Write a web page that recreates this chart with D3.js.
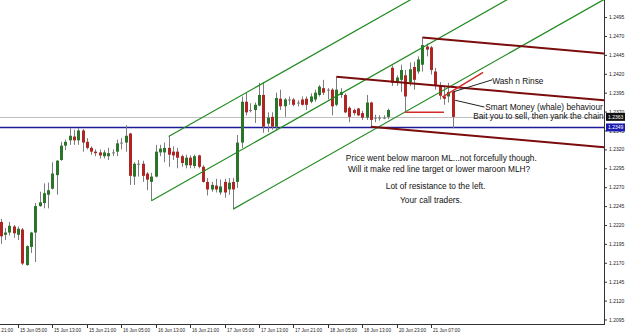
<!DOCTYPE html>
<html>
<head>
<meta charset="utf-8">
<script src="https://cdn.jsdelivr.net/npm/d3@7/dist/d3.min.js"></script>
<style>
  body { margin: 0; background: #fff; }
  svg { display: block; font-family: "Liberation Sans", Arial, sans-serif; }
</style>
</head>
<body>
<svg id="chart"></svg>
<script>
var width = 625; // size of the screenshot
var height = 333;
var plotRight = 604; // price scale starts here
var plotBottom = 324; // time scale starts here

// EURUSD H1, bar 0 = 14 Jun 21:00, first bar on screen is bar 4
var firstBar = 4;
var open = [1.2224,1.2207,1.2210,1.2218,1.2207,1.2214,1.2167,1.2191,1.2210,1.2245,
  1.2249,1.2260,1.2268,1.2286,1.2306,1.2325,1.2332,1.2337,1.2332,1.2345,
  1.2330,1.2322,1.2317,1.2316,1.2311,1.2311,1.2315,1.2317,1.2328,1.2329,
  1.2341,1.2284,1.2300,1.2301,1.2288,1.2277,1.2284,1.2316,1.2316,1.2322,
  1.2317,1.2317,1.2311,1.2299,1.2309,1.2298,1.2312,1.2297,1.2277,1.2267,
  1.2272,1.2263,1.2277,1.2267,1.2277,1.2277,1.2329,1.2383,1.2372,1.2372,
  1.2378,1.2392,1.2354,1.2363,1.2350,1.2387,1.2377,1.2386,1.2386,1.2382,
  1.2386,1.2387,1.2383,1.2386,1.2392,1.2401,1.2399,1.2399,1.2379,1.2392,
  1.2392,1.2375,1.2372,1.2374,1.2368,1.2362,1.2382,1.2361,1.2362,1.2361,
  1.2363,1.2428,1.2408,1.2412,1.2418,1.2409,1.2429,1.2423,1.2432,1.2456,
  1.2455,1.2423,1.2404,1.2390,1.2390,1.2396];
var high = [1.2228,1.2216,1.2224,1.2220,1.2218,1.2216,1.2193,1.2211,1.2249,1.2264,
  1.2275,1.2276,1.2303,1.2306,1.2330,1.2333,1.2348,1.2346,1.2348,1.2347,
  1.2335,1.2324,1.2320,1.2320,1.2319,1.2322,1.2320,1.2333,1.2335,1.2352,
  1.2342,1.2303,1.2306,1.2305,1.2290,1.2289,1.2326,1.2326,1.2329,1.2337,
  1.2324,1.2322,1.2313,1.2313,1.2312,1.2313,1.2313,1.2299,1.2282,1.2277,
  1.2281,1.2280,1.2281,1.2282,1.2282,1.2339,1.2390,1.2395,1.2381,1.2382,
  1.2408,1.2409,1.2369,1.2369,1.2395,1.2399,1.2388,1.2390,1.2388,1.2385,
  1.2390,1.2390,1.2394,1.2399,1.2405,1.2412,1.2401,1.2401,1.2416,1.2401,
  1.2394,1.2377,1.2374,1.2375,1.2371,1.2392,1.2383,1.2366,1.2365,1.2365,
  1.2374,1.2431,1.2418,1.2432,1.2425,1.2435,1.2436,1.2443,1.2468,1.2460,
  1.2457,1.2428,1.2409,1.2403,1.2408,1.2396];
var low = [1.2195,1.2200,1.2206,1.2203,1.2200,1.2167,1.2166,1.2183,1.2171,1.2244,
  1.2242,1.2242,1.2267,1.2260,1.2305,1.2319,1.2326,1.2326,1.2326,1.2317,
  1.2320,1.2313,1.2311,1.2308,1.2308,1.2306,1.2311,1.2311,1.2320,1.2317,
  1.2273,1.2273,1.2284,1.2277,1.2266,1.2252,1.2283,1.2311,1.2303,1.2297,
  1.2306,1.2295,1.2297,1.2295,1.2295,1.2295,1.2295,1.2276,1.2259,1.2264,
  1.2263,1.2260,1.2256,1.2260,1.2241,1.2269,1.2322,1.2365,1.2369,1.2355,
  1.2377,1.2342,1.2343,1.2346,1.2346,1.2372,1.2363,1.2379,1.2377,1.2377,
  1.2378,1.2372,1.2381,1.2383,1.2390,1.2392,1.2386,1.2365,1.2377,1.2388,
  1.2368,1.2356,1.2365,1.2364,1.2359,1.2359,1.2350,1.2356,1.2358,1.2360,
  1.2360,1.2404,1.2404,1.2396,1.2369,1.2404,1.2399,1.2420,1.2423,1.2443,
  1.2419,1.2399,1.2386,1.2379,1.2382,1.2348];
var close = [1.2205,1.2210,1.2219,1.2209,1.2215,1.2169,1.2192,1.2210,1.2245,1.2250,
  1.2262,1.2266,1.2288,1.2305,1.2325,1.2330,1.2338,1.2332,1.2345,1.2329,
  1.2322,1.2317,1.2315,1.2312,1.2316,1.2315,1.2316,1.2328,1.2329,1.2338,
  1.2285,1.2301,1.2301,1.2285,1.2280,1.2284,1.2317,1.2321,1.2322,1.2313,
  1.2312,1.2309,1.2302,1.2309,1.2299,1.2311,1.2297,1.2277,1.2267,1.2273,
  1.2267,1.2271,1.2263,1.2276,1.2267,1.2329,1.2383,1.2369,1.2371,1.2379,
  1.2392,1.2350,1.2362,1.2350,1.2388,1.2377,1.2386,1.2385,1.2379,1.2381,
  1.2379,1.2379,1.2390,1.2395,1.2403,1.2395,1.2398,1.2377,1.2399,1.2396,
  1.2369,1.2363,1.2368,1.2365,1.2362,1.2382,1.2359,1.2362,1.2361,1.2362,
  1.2372,1.2408,1.2415,1.2425,1.2390,1.2426,1.2412,1.2439,1.2458,1.2452,
  1.2425,1.2404,1.2391,1.2387,1.2396,1.2363];

var timeLabels = ["14 Jun 21:00","15 Jun 05:00","15 Jun 13:00","15 Jun 21:00","16 Jun 05:00",
  "16 Jun 13:00","16 Jun 21:00","17 Jun 05:00","17 Jun 13:00","17 Jun 21:00",
  "18 Jun 05:00","18 Jun 13:00","20 Jun 23:00","21 Jun 07:00"];
var timeLabelBars = [0,8,16,24,32,40,48,56,64,72,80,88,96,104];
var priceTicks = [1.2095,1.2120,1.2145,1.2170,1.2195,1.2220,1.2245,1.2270,1.2295,1.2320,
  1.2345,1.2370,1.2395,1.2420,1.2445,1.2470,1.2495,1.2520];

var bidPrice = 1.2363;   // grey bid line
var levelPrice = 1.2349; // blue horizontal line

// pitchfork pivots [bar, price]: handle, then the two prongs
var greenFork = [[39,1.2252],[43,1.2337],[58,1.2241]];
var maroonFork = [[82,1.2416],[102,1.2468],[90,1.2350]];

// hand drawn lines [bar, price] -> [bar, price]
var redLines = [[[98,1.2369],[107,1.2369]], [[106.6,1.2389],[116.1,1.2422]]];
var blackLines = [[[109.1,1.2396],[118.2,1.2412]], [[109.6,1.2385],[116.4,1.2376]]];

var notes = ["Wash n Rinse","Smart Money (whale) behaviour","Bait you to sell, then yank the chain.",
  "Price went below maroon ML...not forcefully though.","Will it make red line target or lower maroon MLH?",
  "Lot of resistance to the left.","Your call traders."];
var noteBars = [118.2,116.6,113.8,84.2,84.7,93.5,96.8];
var notePrices = [1.2407,1.2372,1.2360,1.2304,1.2290,1.2267,1.2249];

var bars = open.map(function(o, k) {
  return { i: firstBar + k, o: o, h: high[k], l: low[k], c: close[k] };
});

var svg = d3.select("#chart").attr("width", width).attr("height", height);
svg.append("rect").attr("width", width).attr("height", height).attr("fill", "#fff");

// scales: 4.3 px per hourly bar
var x = d3.scaleLinear().domain([3.81, 144.2]).range([0, plotRight]);
var y = d3.scaleLinear().domain([1.20877, 1.25176]).range([325, 0]);

svg.append("clipPath").attr("id", "plot")
  .append("rect").attr("width", plotRight).attr("height", plotBottom);
var plot = svg.append("g").attr("clip-path", "url(#plot)");

// horizontal levels
plot.append("line")
  .attr("x1", 0).attr("x2", plotRight)
  .attr("y1", Math.round(y(bidPrice)) + 0.5).attr("y2", Math.round(y(bidPrice)) + 0.5)
  .attr("stroke", "#c0c0c0").attr("stroke-width", 1);
plot.append("line")
  .attr("x1", 0).attr("x2", plotRight)
  .attr("y1", Math.round(y(levelPrice)) + 0.5).attr("y2", Math.round(y(levelPrice)) + 0.5)
  .attr("stroke", "#1b1b9a").attr("stroke-width", 1.3);

// candles
var candle = plot.selectAll(".candle").data(bars).enter().append("g").attr("class", "candle");
candle.append("line")
  .attr("x1", function(d) { return Math.round(x(d.i)) + 0.5; })
  .attr("x2", function(d) { return Math.round(x(d.i)) + 0.5; })
  .attr("y1", function(d) { return y(d.h); })
  .attr("y2", function(d) { return y(d.l); })
  .attr("stroke", "#7d7d7d").attr("stroke-width", 1);
candle.append("rect")
  .attr("x", function(d) { return Math.round(x(d.i)) - 1; })
  .attr("width", 3)
  .attr("y", function(d) { return y(Math.max(d.o, d.c)); })
  .attr("height", function(d) { return Math.max(1, Math.abs(y(d.o) - y(d.c))); })
  .attr("fill", function(d) {
    if (Math.abs(d.o - d.c) < 0.00015) return "#7d7d7d";
    return d.c > d.o ? "#2a752a" : "#b02424";
  });

// pitchforks: median from handle through middle of prongs, parallels from prongs
function drawFork(p, color, w) {
  var mi = (p[1][0] + p[2][0]) / 2, mp = (p[1][1] + p[2][1]) / 2;
  var slope = (mp - p[0][1]) / (mi - p[0][0]);
  var endBar = x.domain()[1];
  p.forEach(function(pt) {
    plot.append("line")
      .attr("x1", x(pt[0])).attr("y1", y(pt[1]))
      .attr("x2", x(endBar)).attr("y2", y(pt[1] + slope * (endBar - pt[0])))
      .attr("stroke", color).attr("stroke-width", w);
  });
}
drawFork(greenFork, "#1f8a1f", 1.2);
drawFork(maroonFork, "#7a0c0c", 2);

plot.selectAll(".redline").data(redLines).enter().append("line")
  .attr("x1", function(d) { return x(d[0][0]); }).attr("y1", function(d) { return y(d[0][1]); })
  .attr("x2", function(d) { return x(d[1][0]); }).attr("y2", function(d) { return y(d[1][1]); })
  .attr("stroke", "#d42a2a").attr("stroke-width", 1.5);
plot.selectAll(".blackline").data(blackLines).enter().append("line")
  .attr("x1", function(d) { return x(d[0][0]); }).attr("y1", function(d) { return y(d[0][1]); })
  .attr("x2", function(d) { return x(d[1][0]); }).attr("y2", function(d) { return y(d[1][1]); })
  .attr("stroke", "#222").attr("stroke-width", 1);

// text notes
plot.selectAll(".note").data(notes).enter().append("text")
  .attr("x", function(d, k) { return x(noteBars[k]); })
  .attr("y", function(d, k) { return y(notePrices[k]); })
  .attr("font-size", "8.3px").attr("fill", "#111")
  .text(function(d) { return d; });

// price scale on the right, tiny labels like the screenshot
var yAxis = svg.append("g").attr("transform", "translate(" + plotRight + ",0)")
  .call(d3.axisRight(y).tickValues(priceTicks).tickSize(3).tickPadding(2)
    .tickFormat(d3.format(".4f")));
yAxis.select(".domain").remove();
yAxis.selectAll("text").attr("font-size", "5px").attr("fill", "#222");
yAxis.selectAll("line").attr("stroke", "#333");

// time scale at the bottom
var xAxis = svg.append("g").attr("transform", "translate(0," + plotBottom + ")");
xAxis.selectAll(".tick").data(timeLabels).enter().append("g")
  .attr("transform", function(d, k) { return "translate(" + (Math.round(x(timeLabelBars[k])) + 0.5) + ",0)"; })
  .each(function(d) {
    var g = d3.select(this);
    g.append("line").attr("y1", 0).attr("y2", 4).attr("stroke", "#333");
    g.append("text").attr("x", 1.5).attr("y", 7.5).attr("font-size", "6px").attr("fill", "#222")
      .attr("textLength", 27).attr("lengthAdjust", "spacingAndGlyphs").text(d);
  });

// frame
svg.append("line").attr("x1", plotRight + 0.5).attr("x2", plotRight + 0.5)
  .attr("y1", 0).attr("y2", plotBottom).attr("stroke", "#333");
svg.append("line").attr("x1", 0).attr("x2", plotRight + 1)
  .attr("y1", plotBottom + 0.5).attr("y2", plotBottom + 0.5).attr("stroke", "#333");

// price tags
function priceTag(p, bg) {
  svg.append("rect").attr("x", plotRight + 2).attr("y", y(p) - 4)
    .attr("width", 19).attr("height", 8).attr("fill", bg);
  svg.append("text").attr("x", plotRight + 4).attr("y", y(p) + 2)
    .attr("font-size", "5px").attr("fill", "#fff")
    .text(d3.format(".4f")(p));
}
priceTag(bidPrice, "#111");
priceTag(levelPrice, "#1b1bb0");
</script>
</body>
</html>
